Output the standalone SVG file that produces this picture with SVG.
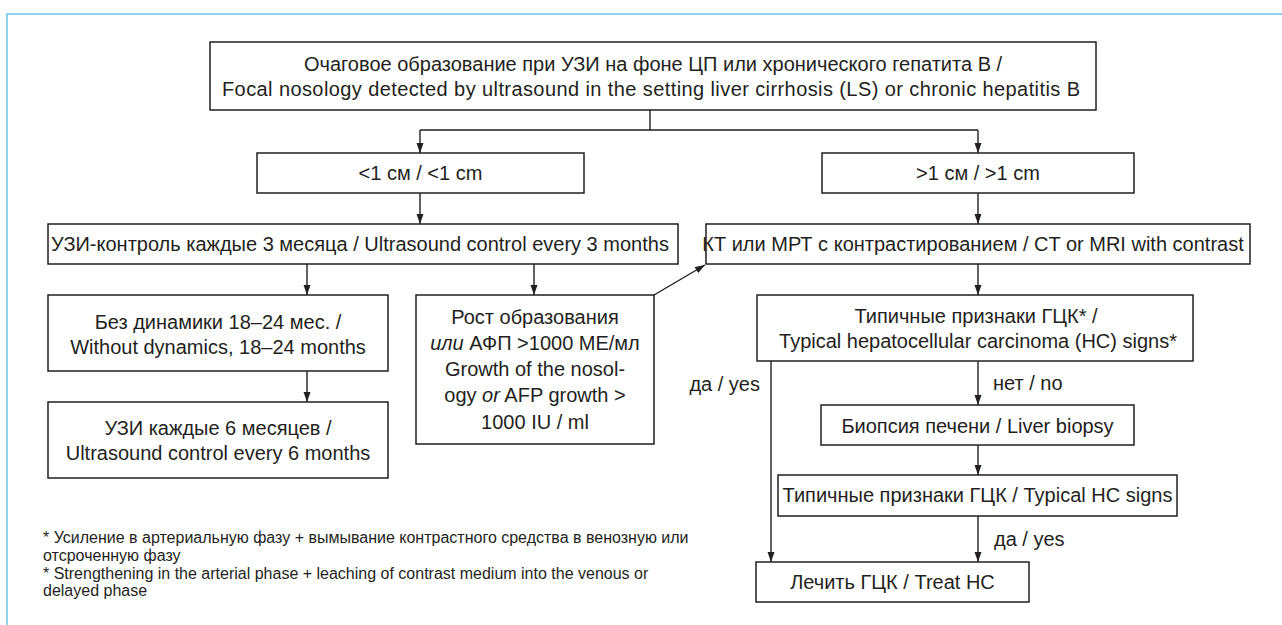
<svg xmlns="http://www.w3.org/2000/svg" width="1282" height="625" viewBox="0 0 1282 625">
<defs>
<marker id="arr" markerWidth="10" markerHeight="8" refX="10" refY="4" orient="auto" markerUnits="userSpaceOnUse">
<path d="M0,0.5 L10,4 L0,7.5 z" fill="#231f20"/>
</marker>
<style>
.box{fill:#fff;stroke:#231f20;stroke-width:1.5}
.t{font-family:"Liberation Sans",Arial,sans-serif;font-size:20px;fill:#231f20;text-anchor:middle}
.l{font-family:"Liberation Sans",Arial,sans-serif;font-size:20px;fill:#231f20}
.fn{font-family:"Liberation Sans",Arial,sans-serif;font-size:16px;fill:#231f20}
.c{fill:none;stroke:#231f20;stroke-width:1.4}
.a{fill:none;stroke:#231f20;stroke-width:1.4;marker-end:url(#arr)}
.frame{fill:none;stroke:#6cc5ea;stroke-width:1.5}
</style>
</defs>
<rect width="1282" height="625" fill="#fff"/>
<path class="frame" d="M7,625 V14 H1282"/>

<g id="connectors">
<path class="c" d="M650,110 V130"/>
<path class="c" d="M420,130 H978"/>
<path class="a" d="M420,130 V153"/>
<path class="a" d="M978,130 V153"/>
<path class="a" d="M420,193 V224"/>
<path class="a" d="M978,193 V224"/>
<path class="a" d="M307,264 V295"/>
<path class="a" d="M534,264 V295"/>
<path class="a" d="M654,295 L705,265"/>
<path class="a" d="M978,264 V295"/>
<path class="a" d="M307,371 V402"/>
<path class="a" d="M978,361 V405"/>
<path class="a" d="M771,361 V562"/>
<path class="a" d="M978,445 V475"/>
<path class="a" d="M978,516 V562"/>
<text class="l" x="760" y="391" text-anchor="end">да / yes</text>
<text class="l" x="993" y="390">нет / no</text>
<text class="l" x="994" y="546">да / yes</text>
</g>

<g id="n-top">
<rect class="box" x="210" y="42" width="886" height="68"/>
<text class="t" x="653" y="71" font-size="20.5">Очаговое образование при УЗИ на фоне ЦП или хронического гепатита В /</text>
<text class="t" x="651" y="96" font-size="20.5" textLength="858" lengthAdjust="spacing">Focal nosology detected by ultrasound in the setting liver cirrhosis (LS) or chronic hepatitis B</text>
</g>
<g id="n-lt1">
<rect class="box" x="257" y="153" width="327" height="40"/>
<text class="t" x="420.5" y="180">&lt;1 см / &lt;1 cm</text>
</g>
<g id="n-gt1">
<rect class="box" x="822" y="153" width="312" height="40"/>
<text class="t" x="978" y="180">&gt;1 см / &gt;1 cm</text>
</g>
<g id="n-us3">
<rect class="box" x="48" y="224" width="630" height="40"/>
<text class="t" x="360" y="251">УЗИ-контроль каждые 3 месяца / Ultrasound control every 3 months</text>
</g>
<g id="n-ct">
<rect class="box" x="706" y="224" width="544" height="40"/>
<text class="t" x="973" y="251" font-size="19.6">КТ или МРТ с контрастированием / CT or MRI with contrast</text>
</g>
<g id="n-nodyn">
<rect class="box" x="48" y="295" width="340" height="76"/>
<text class="t" x="218" y="329">Без динамики 18–24 мес. /</text>
<text class="t" x="218" y="354">Without dynamics, 18–24 months</text>
</g>
<g id="n-growth">
<rect class="box" x="416" y="295" width="238" height="149"/>
<text class="t" x="535" y="324">Рост образования</text>
<text class="t" x="535" y="350"><tspan font-style="italic">или</tspan> АФП &gt;1000 МЕ/мл</text>
<text class="t" x="535" y="376">Growth of the nosol-</text>
<text class="t" x="535" y="402">ogy <tspan font-style="italic">or</tspan> AFP growth &gt;</text>
<text class="t" x="535" y="429">1000 IU / ml</text>
</g>
<g id="n-typ1">
<rect class="box" x="757" y="295" width="436" height="66"/>
<text class="t" x="976" y="323">Типичные признаки ГЦК* /</text>
<text class="t" x="978" y="348">Typical hepatocellular carcinoma (HC) signs*</text>
</g>
<g id="n-us6">
<rect class="box" x="48" y="402" width="340" height="76"/>
<text class="t" x="218" y="435">УЗИ каждые 6 месяцев /</text>
<text class="t" x="218" y="460">Ultrasound control every 6 months</text>
</g>
<g id="n-biopsy">
<rect class="box" x="821" y="405" width="313" height="40"/>
<text class="t" x="977.5" y="433" font-size="20.6">Биопсия печени / Liver biopsy</text>
</g>
<g id="n-typ2">
<rect class="box" x="778" y="475" width="399" height="41"/>
<text class="t" x="977.5" y="502" font-size="19.5">Типичные признаки ГЦК / Typical HC signs</text>
</g>
<g id="n-treat">
<rect class="box" x="756" y="562" width="273" height="40"/>
<text class="t" x="892.5" y="589">Лечить ГЦК / Treat HC</text>
</g>

<g id="footnote">
<text class="fn" x="43" y="543">* Усиление в артериальную фазу + вымывание контрастного средства в венозную или</text>
<text class="fn" x="43" y="561">отсроченную фазу</text>
<text class="fn" x="43" y="578.5">* Strengthening in the arterial phase + leaching of contrast medium into the venous or</text>
<text class="fn" x="43" y="596">delayed phase</text>
</g>
</svg>
